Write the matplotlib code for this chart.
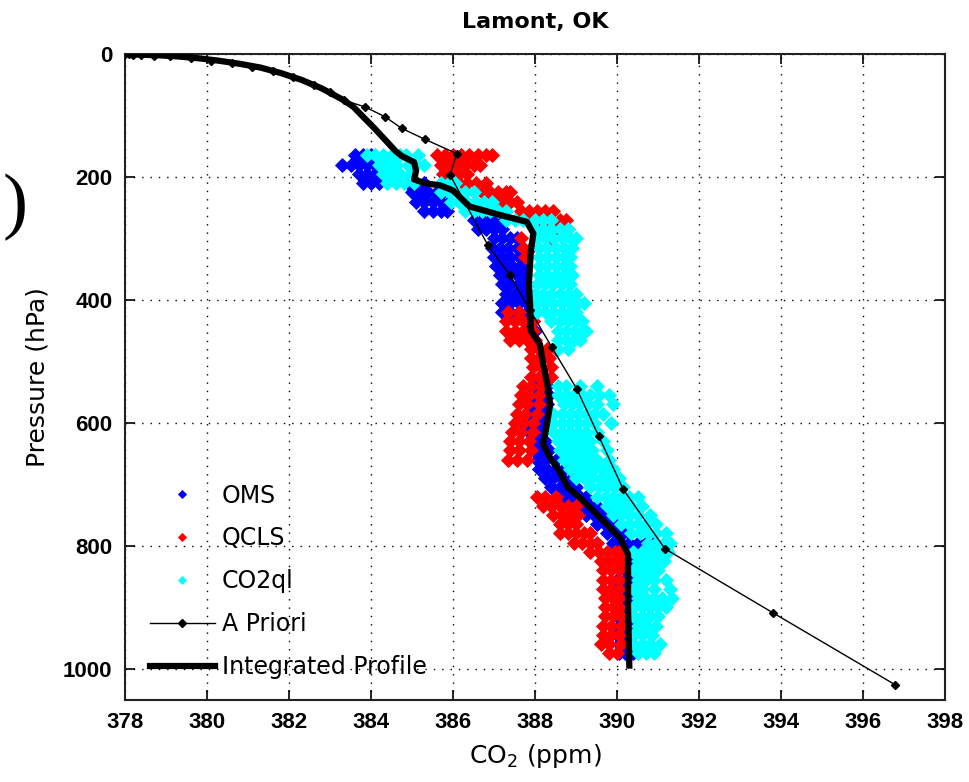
import matplotlib
matplotlib.use("Agg")
import matplotlib.pyplot as plt

plt.rcParams.update({
    "font.family": ["Liberation Sans", "DejaVu Sans"],
    "font.size": 16,
})

# ── A priori profile (thin line, diamonds) ─────────────────────
apriori_x = [378.0, 378.1, 378.2, 378.4, 378.7, 379.1, 379.6, 380.1, 380.6,
             381.1, 381.6, 382.1, 382.6, 383.0, 383.33, 383.85, 384.34,
             384.75, 385.32, 386.09, 385.93, 386.85, 387.39, 387.88, 388.41,
             389.02, 389.55, 390.15, 391.17, 393.8, 396.78]
apriori_p = [0, 0.5, 1, 1.5, 2.5, 4, 7, 11, 15, 21, 28, 37, 50, 62, 75, 86,
             102, 121, 139, 162, 197, 311, 360, 417, 477, 545, 621, 708, 805,
             909, 1026]

# ── Integrated profile (thick line) ───────────────────────────
integ_x = [378.0, 378.3, 378.8, 379.3, 379.8, 380.3, 380.8, 381.3, 381.8,
           382.3, 382.8, 383.33, 383.57, 384.1, 384.6, 384.75, 385.05, 385.1,
           385.05, 385.3, 385.7, 386.0, 386.4, 387.15, 387.8, 387.96, 387.9,
           387.85, 387.88, 387.9, 388.12, 388.2, 388.3, 388.37, 388.28, 388.2,
           388.37, 388.6, 388.8, 389.1, 389.6, 390.07, 390.27, 390.27, 390.3]
integ_p = [0, 1, 2, 4, 7, 11, 16, 22, 31, 42, 56, 75, 86, 122, 158, 166, 176,
           190, 204, 210, 214, 222, 248, 262, 273, 292, 320, 374, 406, 450,
           472, 504, 537, 570, 607, 635, 657, 679, 705, 722, 755, 787, 814,
           900, 995]

# ── OMS samples (rows of equal pressure) ──────────────────────
oms_p = [165, 180, 195, 210, 225, 240, 255, 270, 285, 300, 315, 330, 345, 360,
         375, 390, 405, 420, 435, 450, 540, 555, 570, 585, 600, 615, 630, 645,
         660, 675, 690, 705, 720, 735, 750, 765, 780, 795, 810, 825, 840, 855,
         870, 885, 900, 915, 930, 945, 960, 975]
oms_x = [
    [383.6, 383.8, 384.0],
    [383.3, 383.5, 383.7, 383.9, 384.1, 384.3],
    [383.7, 383.9, 384.1, 384.3],
    [383.8, 384.0, 384.2, 384.9, 385.1, 385.3],
    [385.0, 385.2, 385.4, 385.6, 385.75],
    [385.1, 385.3, 385.5, 385.7, 385.9],
    [385.3, 385.5, 385.7, 385.85, 386.5, 386.7],
    [386.5, 386.7, 386.9, 387.1, 387.3],
    [386.6, 386.8, 387.0, 387.2],
    [387.0, 387.2, 387.4, 387.55],
    [386.95, 387.15, 387.35, 387.55, 387.7],
    [387.0, 387.2, 387.4, 387.6, 387.7],
    [387.05, 387.25, 387.45, 387.65, 387.75],
    [387.15, 387.35, 387.55, 387.75],
    [387.2, 387.4, 387.6, 387.8],
    [387.3, 387.5, 387.7, 387.85],
    [387.2, 387.4, 387.6, 387.8],
    [387.2, 387.4, 387.6, 387.8],
    [387.5, 387.75, 387.95],
    [387.85, 388.0],
    [387.95, 388.15, 388.3],
    [388.0, 388.2, 388.35],
    [387.95, 388.15, 388.3],
    [387.9, 388.1, 388.25],
    [387.9, 388.05, 388.2],
    [387.85, 388.0, 388.2],
    [387.9, 388.05, 388.25],
    [387.95, 388.15, 388.35],
    [388.05, 388.25, 388.5],
    [388.1, 388.3, 388.5, 388.7, 388.85],
    [388.25, 388.45, 388.65, 388.9],
    [388.4, 388.6, 388.8, 389.0],
    [388.7, 388.9, 389.1, 389.25],
    [388.95, 389.15, 389.35, 389.5],
    [389.25, 389.45, 389.65, 389.8],
    [389.5, 389.7, 389.85, 390.0],
    [389.75, 389.95, 390.15, 390.3],
    [389.9, 390.1, 390.3, 390.5, 390.7, 390.9],
    [390.05, 390.25, 390.45, 390.65, 390.8],
    [390.05, 390.25, 390.45],
    [390.05, 390.2, 390.4],
    [390.0, 390.2, 390.4],
    [390.05, 390.2, 390.4],
    [390.0, 390.2, 390.4],
    [390.05, 390.2, 390.4],
    [390.0, 390.2, 390.4],
    [390.05, 390.2, 390.4],
    [390.0, 390.2, 390.4],
    [390.05, 390.2, 390.4],
    [390.05, 390.2, 390.4],
]

# ── QCLS samples ──────────────────────────────────────────────
qcls_p = [165, 180, 195, 210, 225, 240, 255, 270, 285, 300, 315, 330, 420,
          435, 450, 465, 480, 495, 510, 525, 540, 555, 570, 585, 600, 615,
          630, 645, 660, 720, 735, 750, 765, 780, 795, 810, 825, 840, 855,
          870, 885, 900, 915, 930, 945, 960, 975]
qcls_x = [
    [385.6, 385.8, 386.0, 386.2, 386.4, 386.6, 386.8, 386.95],
    [385.7, 385.9, 386.1, 386.3, 386.5, 386.65],
    [385.75, 385.95, 386.15, 386.35],
    [386.15, 386.35, 386.55, 386.8],
    [386.5, 386.7, 386.9, 387.1, 387.3, 387.4],
    [386.8, 387.0, 387.2, 387.4, 387.55],
    [387.65, 387.85, 388.05, 388.25, 388.45],
    [387.8, 388.0, 388.2, 388.4, 388.6, 388.75],
    [388.1, 388.3, 388.5, 388.8],
    [387.65, 388.4],
    [387.7, 387.9],
    [387.75],
    [387.35, 387.6],
    [387.3, 387.5, 387.7, 387.95],
    [387.3, 387.5, 387.7, 387.95],
    [387.4, 387.6, 387.8, 388.0],
    [387.9, 388.1, 388.3, 388.5],
    [387.9, 388.1, 388.35],
    [387.95, 388.15, 388.4],
    [387.9, 388.1, 388.4],
    [387.7, 387.9, 388.15],
    [387.65, 387.85, 388.1],
    [387.6, 387.8, 388.1],
    [387.55, 387.75, 388.05],
    [387.5, 387.7, 387.95],
    [387.45, 387.65, 387.95],
    [387.4, 387.6, 387.85],
    [387.4, 387.6, 387.9],
    [387.35, 387.55, 387.8],
    [388.05, 388.25, 388.5],
    [388.2, 388.4, 388.6, 388.8, 389.0],
    [388.45, 388.65, 388.85, 389.05],
    [388.6, 388.8, 389.0],
    [388.6, 388.8, 389.0, 389.2, 389.35],
    [388.95, 389.15, 389.35, 389.5],
    [389.35, 389.55, 389.75, 389.95, 390.05],
    [389.6, 389.8, 390.0, 390.15],
    [389.65, 389.85, 390.05],
    [389.65, 389.85, 390.05],
    [389.65, 389.85, 390.05],
    [389.7, 389.9, 390.05],
    [389.7, 389.9, 390.05],
    [389.7, 389.9, 390.1],
    [389.65, 389.85, 390.1],
    [389.65, 389.85, 390.05],
    [389.6, 389.8, 390.1],
    [389.8, 390.0],
]

# ── CO2ql samples ─────────────────────────────────────────────
co2ql_p = [165, 180, 195, 210, 225, 240, 255, 270, 285, 300, 315, 330, 345,
           360, 375, 390, 405, 420, 435, 450, 465, 480, 540, 555, 570, 585,
           600, 615, 630, 645, 660, 675, 690, 705, 720, 735, 750, 765, 780,
           795, 810, 825, 840, 855, 870, 885, 900, 915, 930, 945, 960, 975]
co2ql_x = [
    [383.9, 384.1, 384.3, 384.5, 384.7, 384.85, 385.15],
    [384.2, 384.4, 384.6, 384.9, 385.1, 385.3],
    [384.3, 384.5, 384.7, 384.95],
    [384.4, 384.6, 384.8, 385.05, 385.7, 385.9, 386.05],
    [385.7, 385.9, 386.1, 386.3, 386.5],
    [385.95, 386.15, 386.35, 386.55, 386.75, 386.95],
    [386.3, 386.5, 386.7, 386.9, 387.1, 387.3],
    [387.3, 387.5, 387.7, 388.0, 388.2, 388.4],
    [388.0, 388.2, 388.4, 388.6, 388.8],
    [388.05, 388.25, 388.45, 388.65, 388.85, 389.0],
    [388.1, 388.3, 388.5, 388.7, 388.9],
    [388.1, 388.3, 388.5, 388.7, 388.85],
    [388.1, 388.3, 388.5, 388.7, 388.85],
    [388.1, 388.3, 388.5, 388.7, 388.9],
    [388.05, 388.25, 388.45, 388.65, 388.85],
    [388.0, 388.2, 388.4, 388.6, 388.8, 389.0],
    [388.05, 388.25, 388.45, 388.65, 388.85, 389.05, 389.2],
    [388.05, 388.25, 388.45, 388.65, 388.85, 389.0],
    [388.4, 388.6, 388.8, 389.0, 389.15],
    [388.55, 388.75, 388.95, 389.15, 389.25],
    [388.55, 388.75, 388.95, 389.1],
    [388.55, 388.8],
    [388.55, 388.75, 389.1, 389.5],
    [388.55, 388.75, 388.95, 389.15, 389.35, 389.55, 389.8],
    [388.7, 388.9, 389.1, 389.3, 389.5, 389.9],
    [388.45, 388.65, 388.85, 389.05, 389.25, 389.45, 389.65],
    [388.45, 388.65, 388.85, 389.05, 389.25, 389.45, 389.85],
    [388.45, 388.65, 388.85, 389.05, 389.25, 389.5],
    [388.55, 388.75, 388.95, 389.15, 389.35, 389.65],
    [388.6, 388.8, 389.0, 389.2, 389.4, 389.75],
    [388.7, 388.9, 389.1, 389.3, 389.5, 389.8],
    [388.85, 389.05, 389.25, 389.45, 389.65, 389.9],
    [389.0, 389.2, 389.4, 389.6, 389.8, 390.05],
    [389.35, 389.55, 389.75, 389.95, 390.15],
    [389.5, 389.7, 389.9, 390.1, 390.3, 390.5],
    [389.75, 389.95, 390.15, 390.35, 390.6],
    [389.9, 390.1, 390.3, 390.5, 390.8],
    [390.1, 390.3, 390.5, 390.7, 390.95],
    [390.35, 390.55, 390.75, 390.95, 391.2],
    [390.75, 390.95, 391.15, 391.3],
    [390.4, 390.6, 390.8, 391.0, 391.25],
    [390.5, 390.7, 390.9, 391.15],
    [390.4, 390.6, 390.8, 391.0],
    [390.5, 390.7, 390.9, 391.2],
    [390.4, 390.6, 390.9, 391.3],
    [390.5, 390.7, 390.9, 391.1, 391.35],
    [390.4, 390.6, 390.8, 391.0, 391.2],
    [390.4, 390.6, 390.8, 391.0],
    [390.5, 390.7, 390.95],
    [390.4, 390.6, 390.85],
    [390.4, 390.6, 390.8, 391.05],
    [390.5, 390.7, 390.9],
]

X_TICKS = list(range(378, 399, 2))
Y_TICKS = list(range(0, 1001, 200))


def flatten(levels, rows):
    xs, ps = [], []
    for p, row in zip(levels, rows):
        for x in row:
            xs.append(x)
            ps.append(p)
    return xs, ps


fig = plt.figure(figsize=(9.7, 7.82), dpi=100)
ax = fig.add_axes([125 / 970, 1 - 700 / 782, 820 / 970, 646 / 782])

ms = 6.8
for rows_p, rows_x, col, lbl in [(oms_p, oms_x, "#0000ff", "OMS"),
                                  (qcls_p, qcls_x, "#ff0000", "QCLS"),
                                  (co2ql_p, co2ql_x, "#00ffff", "CO2ql")]:
    xs, ps = flatten(rows_p, rows_x)
    ax.plot(xs, ps, linestyle="none", marker="D", markersize=ms,
            markerfacecolor=col, markeredgecolor=col, markeredgewidth=0.6,
            label=lbl, zorder=2)

ax.plot(apriori_x, apriori_p, color="black", linewidth=1.0, marker="D",
        markersize=4, label="A Priori", zorder=3)
ax.plot(integ_x, integ_p, color="black", linewidth=4.5,
        solid_joinstyle="round", label="Integrated Profile", zorder=4)

ax.set_xlim(378, 398)
ax.set_ylim(1051, 0)
ax.set_xticks(X_TICKS)
ax.set_yticks(Y_TICKS)
ax.grid(True, color="black", linestyle=(0, (1, 5)), linewidth=1.0)
ax.set_axisbelow(True)
ax.tick_params(direction="in", length=7, width=1.2, top=True, right=True,
               labelsize=16, pad=9)
for lab in ax.get_xticklabels() + ax.get_yticklabels():
    lab.set_fontweight("bold")
for sp in ax.spines.values():
    sp.set_linewidth(1.5)
    sp.set_color("#222222")

ax.set_title("Lamont, OK", fontsize=16, fontweight="bold",
             family="DejaVu Sans", pad=19)
ax.set_xlabel("CO$_2$ (ppm)", fontsize=18, family="DejaVu Sans", labelpad=6)
ax.set_ylabel("Pressure (hPa)", fontsize=18, family="DejaVu Sans",
              labelpad=10)

leg = ax.legend(loc="upper left", bbox_to_anchor=(0.03, 0.335),
                frameon=False, numpoints=1, handlelength=2.75,
                handletextpad=0.3, labelspacing=0.8, borderpad=0,
                borderaxespad=0, prop={"family": "DejaVu Sans", "size": 17})
for h in leg.legend_handles[:3]:
    h.set_markersize(4.5)

# stray closing bracket cropped from a neighbouring panel
fig.text(0.003, 0.735, ")", fontsize=54, family="Liberation Serif",
         va="center", ha="left")

fig.savefig("out.png", dpi=100)
